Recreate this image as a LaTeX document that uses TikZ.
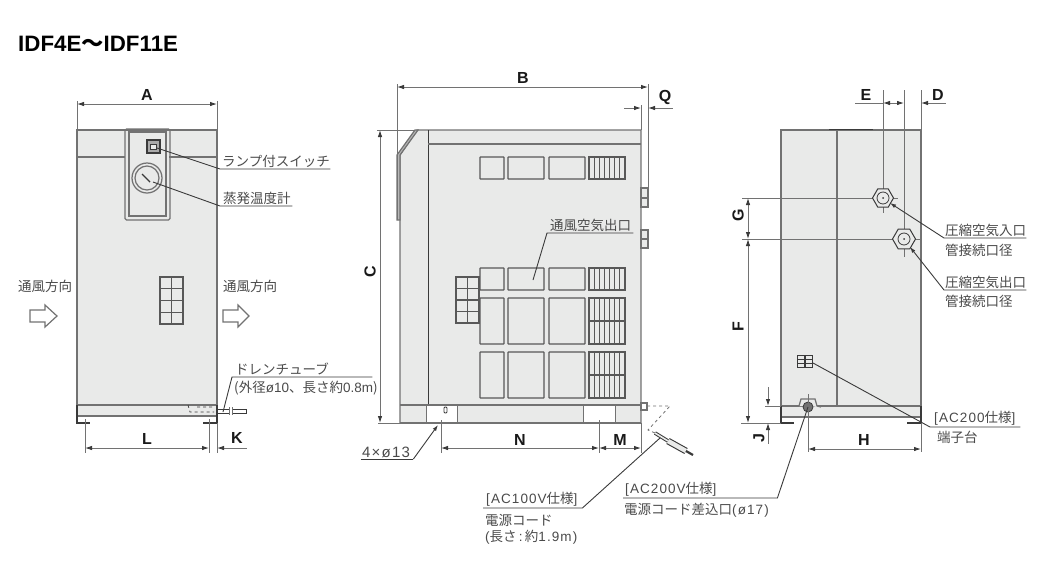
\documentclass[tikz,border=0pt]{standalone}
\usepackage{fontspec}
\setmainfont{Noto Sans CJK JP}
\newfontfamily\latinfont{Liberation Sans}
\newfontfamily\spaced[LetterSpace=8]{Liberation Sans}
\usetikzlibrary{arrows.meta,shapes.geometric}
\definecolor{bodygray}{HTML}{E9EAE9}
\definecolor{linegray}{HTML}{727272}
\definecolor{darkline}{HTML}{3A3A3A}
\definecolor{notegray}{HTML}{4A4A4A}
\tikzset{
	outline/.style={draw=linegray,line width=1.25pt},
	thin line/.style={draw=darkline,line width=0.8pt},
	dim/.style={draw=linegray,line width=0.9pt,>={Latex[length=7pt,width=4.5pt,color=darkline]}},
	extline/.style={draw=linegray,line width=0.8pt},
	leader/.style={draw=darkline,line width=0.9pt,>={Latex[length=6pt,width=4pt]}},
	dimlabel/.style={inner sep=0pt,text=black!90,font=\latinfont\bfseries\fontsize{16}{16}\selectfont},
	note/.style={inner xsep=0pt,inner ysep=1.5pt,anchor=south west,align=left,text width=#1,text=notegray,font=\fontsize{13.5}{14}\selectfont},
	plain note/.style={inner sep=0pt,anchor=west,text=notegray,font=\fontsize{13.5}{14}\selectfont},
	slot/.style={draw=darkline!85,line width=1.15pt},
	flow/.style={draw=linegray,line width=1.2pt,fill=white},
	port/.style={regular polygon,regular polygon sides=6,inner sep=0pt,draw=darkline,fill=bodygray,line width=1pt},
}
\begin{document}
\begin{tikzpicture}[x=1pt,y=-1pt]
	\useasboundingbox (0,0) rectangle (1057,563);
	\node[inner sep=0pt,anchor=west,text=black,font=\latinfont\bfseries\fontsize{22.3}{23}\selectfont] (Title) at (18,44) {IDF4E{\fontspec{Noto Sans CJK JP}〜}IDF11E};

	\coordinate (FrontNW) at (77,130);
	\coordinate (FrontNE) at (217,130);
	\coordinate (FrontSW) at (77,423);
	\coordinate (FrontSE) at (217,423);
	\fill[bodygray] (FrontNW) rectangle (217,416);
	\draw[outline] (77,416) -- (FrontNW) -- (FrontNE) -- (217,405);
	\draw[outline] (77,157) -- (125,157) (169,157) -- (217,157);
	\draw[outline] (77,405) -- (217,405);
	\draw[outline] (77,416) -- (217,416);
	\draw[thin line,line width=1.2pt] (77,405) -- (FrontSW) -- (90,423);
	\draw[thin line,line width=1.2pt] (203,423) -- (FrontSE) -- (217,405);
	\draw[outline,rounded corners=1.5pt] (125,129) rectangle (170,220);
	\draw[outline] (129,132) rectangle (166,216);
	\draw[thin line,line width=1.4pt,fill=linegray!60] (147,140) rectangle (160,153);
	\draw[thin line,fill=bodygray] (150,144) rectangle (156,149);
	\node[circle,outline,minimum size=30pt,inner sep=0pt] (Gauge) at (147,178) {};
	\draw[outline] (Gauge.center) circle (12);
	\draw[thin line,line width=1.4pt] (142,174) -- (150,182);
	\foreach \i in {0,1}
		\foreach \j in {0,...,3}
			\draw[slot,line width=1.3pt] (160+\i*11.5,277+\j*11.75) rectangle +(11.5,11.75);
	\node[plain note] (FlowLeftText) at (18,286) {通風方向};
	\node[plain note] (FlowRightText) at (223,286) {通風方向};
	\draw[flow] (30,310) -- (45,310) -- (45,305) -- (57,316) -- (45,327) -- (45,322) -- (30,322) -- cycle;
	\draw[flow] (223,310) -- (238,310) -- (238,305) -- (249,316) -- (238,327) -- (238,322) -- (223,322) -- cycle;

	\draw[dashed,thin line,line width=0.7pt] (188,405) -- (190,412) -- (214,412) (197,407) -- (214,407);
	\draw[thin line,fill=white] (217,409) rectangle (229,413);
	\draw[thin line,fill=white] (232,409) rectangle (246,413);
	\draw[outline,line width=1pt] (229,407) -- (229,415) (232,407) -- (232,415);

	\coordinate (A1) at (77,104);
	\coordinate (A2) at (217,104);
	\draw[dim,<->] (A1) -- (A2);
	\draw[extline] (77,101) -- (FrontNW) (217,101) -- (FrontNE);
	\node[dimlabel] (LabelA) at (147,95) {A};
	\coordinate (L1) at (85,448);
	\coordinate (L2) at (209,448);
	\coordinate (K1) at (217,448);
	\coordinate (K2) at (247,448);
	\draw[dim,<->] (L1) -- (L2);
	\draw[dim,<-] (K1) -- (K2);
	\draw[extline] (85,419) -- (85,453) (209,419) -- (209,453) (217,423) -- (217,453);
	\node[dimlabel] (LabelL) at (147,439) {L};
	\node[dimlabel] (LabelK) at (237,438) {K};

	\coordinate (SwitchPt) at (157,148);
	\node[note=110pt] (SwitchNote) at (220,169) {\hspace{2pt}ランプ付スイッチ};
	\draw[leader] (SwitchPt) -- (SwitchNote.south west) -- (SwitchNote.south east);
	\coordinate (GaugePt) at (153,182);
	\node[note=72pt] (GaugeNote) at (220,206) {\hspace{3pt}蒸発温度計};
	\draw[leader] (GaugePt) -- (GaugeNote.south west) -- (GaugeNote.south east);
	\coordinate (DrainPt) at (223,412);
	\node[note=140pt] (DrainNote) at (232,377) {\hspace{3pt}ドレンチューブ};
	\draw[leader] (DrainPt) -- (DrainNote.south west) -- (DrainNote.south east);
	\node[plain note] (DrainSize) at (234,388) {(外径{\latinfont ø10}、長さ約{\latinfont 0.8m})};

	\fill[bodygray] (400,155) -- (417,130) -- (641,130) -- (641,423) -- (400,423) -- cycle;
	\draw[outline] (400,423) -- (400,155) -- (417,130) -- (641,130) -- (641,423) -- cycle;
	\draw[outline,fill=linegray!50] (397,155) -- (415,130) -- (418,130) -- (400,155) -- (400,220) -- (397,220) -- cycle;
	\draw[thin line,line width=1pt] (428,130) -- (428,405);
	\draw[outline] (428,144) -- (641,144);
	\draw[outline] (400,405) -- (641,405);
	\foreach \ya/\yb in {157/179,268/290,298/344,352/398} {
		\draw[slot,rounded corners=0.5pt] (480,\ya) rectangle (504,\yb);
		\draw[slot,rounded corners=0.5pt] (508,\ya) rectangle (544,\yb);
		\draw[slot,rounded corners=0.5pt] (549,\ya) rectangle (585,\yb);
		\foreach \k in {0,...,6}
			\draw[slot] (589+\k*5.14,\ya) rectangle (589+\k*5.14+5.14,\yb);
	}
	\draw[slot] (589,321) -- (625,321) (589,375) -- (625,375);
	\foreach \i in {0,1}
		\foreach \j in {0,...,3}
			\draw[slot,line width=1.3pt] (456+\i*11.5,277+\j*11.5) rectangle +(11.5,11.5);
	\draw[outline,fill=bodygray] (641,188) rectangle (648,207);
	\draw[outline] (641,198) -- (648,198);
	\draw[outline,fill=bodygray] (641,230) rectangle (648,248);
	\draw[outline] (641,239) -- (648,239);
	\draw[extline,fill=white] (426,405) rectangle (457,423);
	\draw[extline,fill=white] (583,405) rectangle (615,423);
	\draw[thin line,line width=1.4pt] (426,423) -- (457,423) (583,423) -- (615,423);
	\draw[thin line,rounded corners=1pt] (444,407) rectangle (447,413);
	\draw[outline] (641,423) -- (400,423);
	\draw[extline] (397,220) -- (397,155);

	\coordinate (B1) at (397,87);
	\coordinate (B2) at (648,87);
	\draw[dim,<->] (B1) -- (B2);
	\draw[extline] (397,84) -- (397,155) (648,84) -- (648,188);
	\node[dimlabel] (LabelB) at (523,78) {B};
	\coordinate (Q1) at (641,108);
	\coordinate (Q2) at (648,108);
	\coordinate (Q3) at (624,108);
	\coordinate (Q4) at (673,108);
	\draw[dim,<-] (Q1) -- (Q3);
	\draw[dim,<-] (Q2) -- (Q4);
	\draw[extline] (641,105) -- (641,130);
	\node[dimlabel] (LabelQ) at (665,97) {Q};
	\coordinate (C1) at (380,130);
	\coordinate (C2) at (380,423);
	\draw[dim,<->] (C1) -- (C2);
	\draw[extline] (377,130) -- (415,130) (378,423) -- (400,423);
	\node[dimlabel,rotate=90] (LabelC) at (370,272) {C};
	\coordinate (N1) at (441,448);
	\coordinate (N2) at (599,448);
	\coordinate (M2) at (641,448);
	\draw[dim,<->] (N1) -- (N2);
	\draw[dim,<->] (N2) -- (M2);
	\draw[extline] (441,420) -- (441,453) (599,420) -- (599,453) (641,423) -- (641,453);
	\node[dimlabel] (LabelN) at (520,440) {N};
	\node[dimlabel] (LabelM) at (620,440) {M};

	\node[note=86pt,text=notegray] (OutletNote) at (547,233) {\hspace{3pt}通風空気出口};
	\coordinate (OutletPt) at (533,280);
	\draw[leader] (OutletPt) -- (OutletNote.south west) -- (OutletNote.south east);
	\coordinate (HolePt) at (438,425);
	\node[note=52pt,font=\fontsize{15}{15}\selectfont] (HoleNote) at (361,459) {\hspace{1pt}{\spaced 4×ø13}};
	\draw[leader,->] (HoleNote.south east) -- (HolePt);
	\draw[leader] (HoleNote.south west) -- (HoleNote.south east);

	\draw[outline,fill=white] (641,403) rectangle (647,410);
	\draw[dashed,extline] (647,406) -- (670,406) -- (648,430) -- (655,433);
	\draw[thin line,line width=1pt,double=bodygray,double distance=1.6pt] (655,433) -- (668,441);
	\draw[thin line,line width=1.1pt,double=bodygray,double distance=4.5pt] (668,441) -- (686,451);
	\draw[thin line,line width=2.2pt] (686,451) -- (693,455);
	\coordinate (CordPt) at (660,438);
	\node[note=99pt] (CordNote) at (483,508) {\hspace{3pt}{\spaced [AC100V}仕様{\spaced ]}};
	\draw[leader] (CordPt) -- (CordNote.south east) -- (CordNote.south west);
	\node[plain note] (CordText) at (485,520) {電源コード};
	\node[plain note] (CordLength) at (485,537) {{\spaced (}長さ{\spaced\,:\,}約{\spaced 1.9m)}};

	\fill[bodygray] (781,130) rectangle (921,417);
	\draw[outline] (781,406) -- (781,130) -- (921,130) -- (921,406);
	\draw[thin line,line width=1.8pt] (829,129.5) -- (873,129.5);
	\draw[outline] (837,130) -- (837,406);
	\draw[outline] (781,406) -- (921,406);
	\draw[outline] (781,417) -- (921,417);
	\draw[thin line,line width=1.2pt] (781,406) -- (781,423) -- (794,423);
	\draw[thin line,line width=1.2pt] (907,423) -- (921,423) -- (921,406);
	\foreach \i in {0,1}
		\draw[thin line,line width=0.8pt] (797+\i*8.5,355) rectangle +(7,12) (797+\i*8.5,359) -- +(7,0) (797+\i*8.5,363) -- +(7,0);
	\draw[outline,fill=bodygray] (799,406) -- (801,399) -- (815,399) -- (817,406) -- (821,407);
	\node[circle,draw=darkline,fill=linegray,line width=0.8pt,minimum size=10pt,inner sep=0pt] (Inlet) at (808,407) {};

	\draw[extline] (742,198) -- (898,198);
	\draw[extline] (742,239) -- (921,239);
	\draw[extline] (883,90) -- (883,213);
	\draw[extline] (904,90) -- (904,257);
	\draw[extline] (921,90) -- (921,130);
	\node[port,minimum size=21pt] (PortIn) at (883,198) {};
	\node[port,minimum size=23pt] (PortOut) at (904,239) {};
	\foreach \p in {PortIn,PortOut} {
		\draw[thin line] (\p.center) circle (6);
		\fill[darkline] (\p.center) circle (1);
	}

	\coordinate (E0) at (855,103);
	\coordinate (E1) at (883,103);
	\coordinate (E2) at (904,103);
	\coordinate (D1) at (921,103);
	\coordinate (D2) at (946,103);
	\coordinate (Em) at (893.5,103);
	\draw[dim] (E0) -- (E1);
	\draw[dim,->] (Em) -- (E1);
	\draw[dim,->] (Em) -- (E2);
	\draw[dim,<-] (D1) -- (D2);
	\node[dimlabel] (LabelE) at (866,95) {E};
	\node[dimlabel] (LabelD) at (938,95) {D};
	\coordinate (G1) at (748,198);
	\coordinate (G2) at (748,239);
	\coordinate (F2) at (748,423);
	\draw[dim,<->] (G1) -- (G2);
	\draw[dim,<->] (G2) -- (F2);
	\draw[extline] (741,423) -- (781,423);
	\node[dimlabel,rotate=90] (LabelG) at (738,215) {G};
	\node[dimlabel,rotate=90] (LabelF) at (738,327) {F};
	\coordinate (J1) at (768,406);
	\coordinate (J2) at (768,423);
	\coordinate (J3) at (768,387);
	\coordinate (J4) at (768,444);
	\draw[dim,<-] (J1) -- (J3);
	\draw[dim,<-] (J2) -- (J4);
	\draw[extline] (765,406) -- (781,406);
	\node[dimlabel,rotate=90] (LabelJ) at (759,438) {J};
	\coordinate (H1) at (808,449);
	\coordinate (H2) at (921,449);
	\draw[dim,<->] (H1) -- (H2);
	\draw[extline] (Inlet.center) -- (808,394) (Inlet.center) -- (808,452) (921,423) -- (921,452);
	\node[dimlabel] (LabelH) at (864,440) {H};

	\coordinate (PortInPt) at (890,203);
	\node[note=82pt] (InNote) at (944,238) {\hspace{1pt}圧縮空気入口};
	\draw[leader,<-] (PortInPt) -- (InNote.south west) -- (InNote.south east);
	\node[plain note] (InSize) at (945,250) {管接続口径};
	\coordinate (PortOutPt) at (910,247);
	\node[note=82pt] (OutNote) at (944,290) {\hspace{1pt}圧縮空気出口};
	\draw[leader,<-] (PortOutPt) -- (OutNote.south west) -- (OutNote.south east);
	\node[plain note] (OutSize) at (945,301) {管接続口径};
	\coordinate (BlockPt) at (813,363);
	\node[note=90pt] (BlockNote) at (930,427) {\hspace{4pt}{\spaced [AC200}仕様{\spaced ]}};
	\draw[leader] (BlockPt) -- (BlockNote.south west) -- (BlockNote.south east);
	\node[plain note] (BlockText) at (937,437) {端子台};
	\node[note=154pt] (InletNote) at (623,498) {\hspace{2pt}{\spaced [AC200V}仕様{\spaced ]}};
	\draw[leader] (InletNote.south west) -- (InletNote.south east) -- (Inlet.center);
	\node[plain note] (InletText) at (624,510) {電源コード差込口{\spaced (ø17)}};
\end{tikzpicture}
\end{document}
